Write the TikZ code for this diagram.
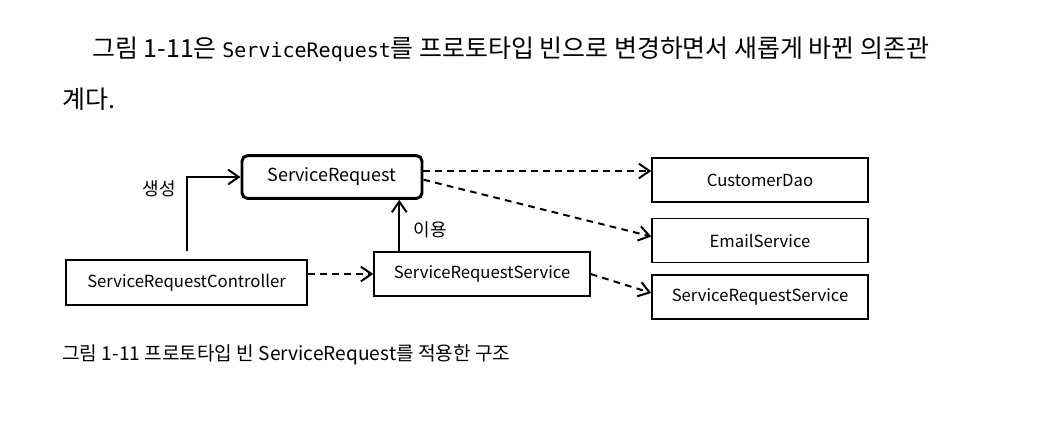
\documentclass[tikz,border=0pt]{standalone}
\usepackage{fontspec}
\setmainfont{Noto Sans CJK KR}
\newfontfamily\codefont{DejaVu Sans Mono}
\usetikzlibrary{arrows.meta}
\tikzset{
	clsbox/.style={draw, line width=1.1pt, minimum width=162pt, minimum height=33pt, inner sep=0pt, font=\fontsize{12.5pt}{14pt}\selectfont},
	protobox/.style={clsbox, rounded corners=4pt, line width=2.2pt, minimum width=135pt, minimum height=32pt, font=\fontsize{13.5pt}{15pt}\selectfont},
	uses/.style={-{Straight Barb[length=8pt,width=11pt]}, line width=1.5pt},
	dep/.style={uses, dash pattern=on 5pt off 4pt},
	lbl/.style={inner sep=0pt, font=\fontsize{13.5pt}{15pt}\selectfont}
}
\begin{document}
\begin{tikzpicture}[x=0.75pt,y=0.75pt,yscale=-1,xscale=1]
	\useasboundingbox (0,0) rectangle (1046,426);
	
	% Text Node
	\node [anchor=base west, inner sep=0pt, font=\fontsize{18.7pt}{21pt}\selectfont] (line1) at (92,57) {그림 1-11은 {\codefont\fontsize{15pt}{17pt}\selectfont ServiceRequest}를 프로토타입 빈으로 변경하면서 새롭게 바뀐 의존관};
	% Text Node
	\node [anchor=base west, inner sep=0pt, font=\fontsize{18.7pt}{21pt}\selectfont] (line2) at (62,108) {계다.};
	
	%Shape: Rectangle
	\node [protobox] (sr) at (332,177) {ServiceRequest};
	\node [clsbox] (dao) at (760,180) {CustomerDao};
	\node [clsbox] (mail) at (760,240.5) {EmailService};
	\node [clsbox] (srs2) at (760,297) {ServiceRequestService};
	\node [clsbox, minimum width=181pt, minimum height=34pt] (ctrl) at (186.5,282.5) {ServiceRequestController};
	\node [clsbox] (srs) at (482,274) {ServiceRequestService};
	
	% Text Node
	\node [lbl] (make) at (159,189) {생성};
	\node [lbl] (use) at (430,230) {이용};
	
	%Straight Lines
	\draw [uses] ([yshift=-6pt]ctrl.north) |- (sr.west);
	\draw [uses] ([xshift=19.5pt]srs.north west) -- ([xshift=19.5pt]srs.north west |- sr.south);
	%Straight Lines
	\draw [dep] (srs.west -| ctrl.east) -- (srs.west);
	\draw [dep] ([yshift=-4.5pt]sr.east) -- ([yshift=-4.5pt]sr.east -| dao.west);
	\draw [dep] ([yshift=2pt]sr.east) -- ([yshift=-3pt]mail.west);
	\draw [dep] (srs.east) -- ([yshift=-3pt]srs2.west);
	
	% Text Node
	\node [anchor=base west, inner sep=0pt, font=\fontsize{14.35pt}{16pt}\selectfont] (cap) at (62,360) {그림 1-11 프로토타입 빈 ServiceRequest를 적용한 구조};
\end{tikzpicture}
\end{document}
